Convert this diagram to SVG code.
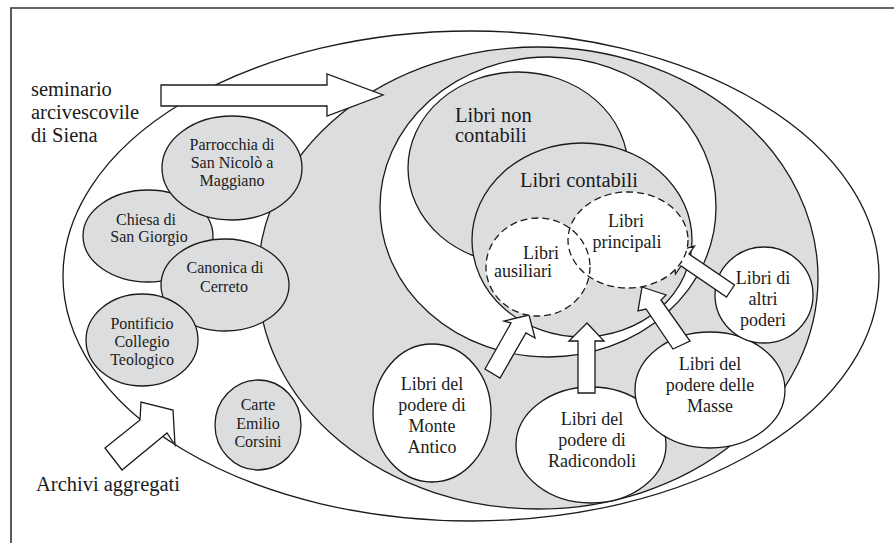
<svg xmlns="http://www.w3.org/2000/svg" width="894" height="543" viewBox="0 0 894 543" font-family="Liberation Serif, DejaVu Serif, Noto Serif, FreeSerif, serif">
  <style>
    .ln { stroke: #1b1b1b; stroke-width: 1.3; }
    .gray { fill: #dcdddf; }
    .white { fill: #ffffff; }
    .dash { fill: none; stroke: #1b1b1b; stroke-width: 1.3; stroke-dasharray: 7 4; }
    .arrow { fill: #ffffff; stroke: #1b1b1b; stroke-width: 1.3; stroke-linejoin: miter; }
    text { fill: #1b1b1b; text-anchor: middle; }
    .t20 { font-size: 20.5px; }
    .t18 { font-size: 18px; }
    .t16 { font-size: 16px; }
    .left { text-anchor: start; }
  </style>

  <rect width="894" height="543" fill="#ffffff"/>
  <!-- page frame (only top and left edges fall inside the canvas) -->
  <path d="M11,543 V8 H894" fill="none" stroke="#333" stroke-width="1.6"/>

  <!-- seminario arcivescovile -->
  <g id="seminario">
    <ellipse cx="471" cy="276" rx="408" ry="245" class="white ln"/>
    <text class="t20 left" x="31" y="96">seminario</text>
    <text class="t20 left" x="31" y="119">arcivescovile</text>
    <text class="t20 left" x="31" y="142">di Siena</text>
  </g>

  <!-- main archive ring -->
  <g id="archivio-principale">
    <ellipse cx="538" cy="278" rx="280" ry="231" class="gray ln"/>
    <ellipse cx="548" cy="207" rx="168" ry="150" class="white ln"/>
  </g>

  <g id="libri-non-contabili">
    <ellipse cx="518" cy="168" rx="110" ry="96" class="gray ln"/>
    <text class="t20 left" x="455" y="122">Libri non</text>
    <text class="t20 left" x="455" y="142">contabili</text>
  </g>

  <g id="libri-contabili">
    <ellipse cx="582" cy="240" rx="110" ry="97" class="gray ln"/>
    <text class="t20" x="579" y="187">Libri contabili</text>
  </g>

  <!-- aggregated archives -->
  <g id="chiesa-san-giorgio">
    <ellipse cx="148" cy="236" rx="65" ry="46" class="gray ln"/>
    <text class="t16" x="146" y="225">Chiesa di</text>
    <text class="t16" x="149" y="242">San Giorgio</text>
  </g>
  <g id="parrocchia-maggiano">
    <ellipse cx="232" cy="168" rx="70" ry="52" class="gray ln"/>
    <text class="t16" x="232" y="150">Parrocchia di</text>
    <text class="t16" x="232" y="168">San Nicolò a</text>
    <text class="t16" x="232" y="186">Maggiano</text>
  </g>
  <g id="canonica-cerreto">
    <ellipse cx="225" cy="285" rx="64" ry="46" class="gray ln"/>
    <text class="t16" x="225" y="273">Canonica di</text>
    <text class="t16" x="224" y="292">Cerreto</text>
  </g>
  <g id="pontificio-collegio">
    <ellipse cx="142" cy="340" rx="56" ry="46" class="gray ln"/>
    <text class="t16" x="142" y="329">Pontificio</text>
    <text class="t16" x="142" y="347">Collegio</text>
    <text class="t16" x="142" y="365">Teologico</text>
  </g>
  <g id="carte-corsini">
    <ellipse cx="258" cy="425" rx="43" ry="45" class="gray ln"/>
    <text class="t16" x="258" y="410">Carte</text>
    <text class="t16" x="258" y="429">Emilio</text>
    <text class="t16" x="258" y="447">Corsini</text>
  </g>

  <!-- farm books -->
  <g id="podere-monte-antico">
    <ellipse cx="432" cy="413" rx="59" ry="69" class="white ln"/>
    <text class="t18" x="432" y="390">Libri del</text>
    <text class="t18" x="432" y="411">podere di</text>
    <text class="t18" x="432" y="432">Monte</text>
    <text class="t18" x="432" y="453">Antico</text>
  </g>
  <g id="podere-radicondoli">
    <ellipse cx="591" cy="445" rx="75" ry="58" class="white ln"/>
    <text class="t18" x="592" y="425">Libri del</text>
    <text class="t18" x="592" y="446">podere di</text>
    <text class="t18" x="592" y="467">Radicondoli</text>
  </g>
  <g id="podere-masse">
    <ellipse cx="710" cy="390" rx="75" ry="58" class="white ln"/>
    <text class="t18" x="710" y="370">Libri del</text>
    <text class="t18" x="710" y="391">podere delle</text>
    <text class="t18" x="710" y="412">Masse</text>
  </g>
  <g id="altri-poderi">
    <ellipse cx="764" cy="295" rx="49" ry="48" class="white ln"/>
    <text class="t18" x="763" y="284">Libri di</text>
    <text class="t18" x="763" y="305">altri</text>
    <text class="t18" x="763" y="326">poderi</text>
  </g>

  <!-- block arrows -->
  <g id="connectors">
    <polygon class="arrow" points="161,85 327,85 327,74 383,95 327,116 327,106 161,106"/>
    <polygon class="arrow" points="105,448 140,420 141,402 173,410 175,445 167,433 122,470"/>
    <polygon class="arrow" points="485,369 511,323 504,321 529,315 535,338 526,333 500,378"/>
    <polygon class="arrow" points="578,393 578,341 569,341 587,323 604,341 595,341 595,393"/>
    <polygon class="arrow" points="642,287 666,295 661,300 690,341 673,349 646,309 638,311"/>
    <polygon class="arrow" points="673,252 694.5,246 689,254 734.5,285 726.5,297 681,266 675.5,274"/>
  </g>

  <!-- main and auxiliary books (dashed) -->
  <g id="libri-ausiliari">
    <ellipse cx="538" cy="267" rx="52" ry="49" class="white"/>
  </g>
  <g id="libri-principali">
    <ellipse cx="628" cy="240" rx="60" ry="48" class="white"/>
  </g>
  <g id="dashed-outlines">
    <ellipse cx="538" cy="267" rx="52" ry="49" class="dash"/>
    <ellipse cx="628" cy="240" rx="60" ry="48" class="dash"/>
    <text class="t18" x="541" y="259">Libri</text>
    <text class="t18" x="523" y="277">ausiliari</text>
    <text class="t18" x="626" y="227">Libri</text>
    <text class="t18" x="627" y="248">principali</text>
  </g>

  <text class="t20 left" x="36" y="491">Archivi aggregati</text>
</svg>
